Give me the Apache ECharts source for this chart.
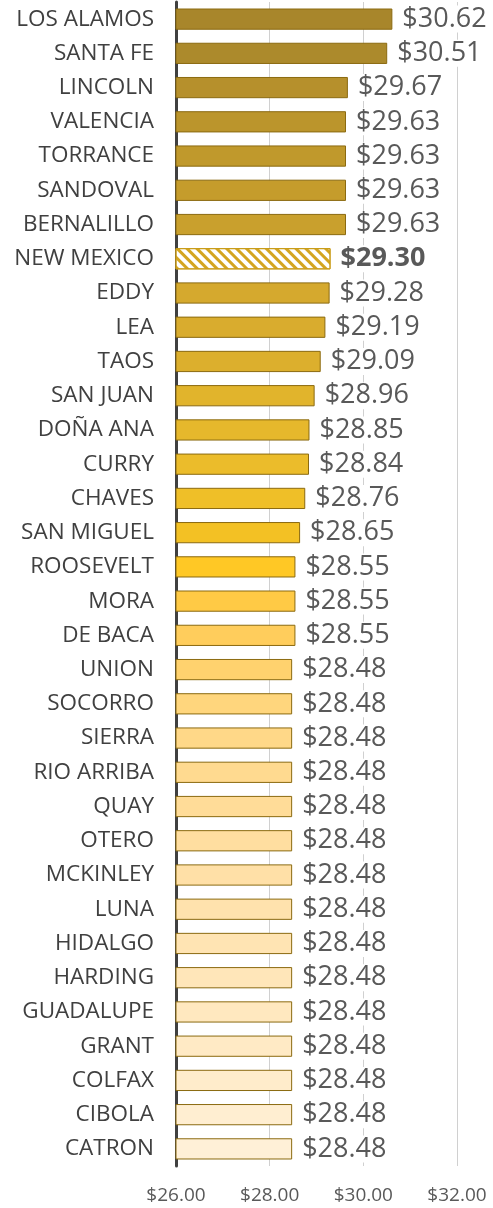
<!DOCTYPE html>
<html>
<head>
<meta charset="utf-8">
<script src="https://cdn.jsdelivr.net/npm/echarts@6/dist/echarts.min.js"></script>
<style>
  html, body { margin: 0; padding: 0; background: #fff; }
  #c_container { width: 493px; height: 1208px; }
</style>
</head>
<body>
<div id="c_container"></div>
<script>
var counties = ["LOS ALAMOS", "SANTA FE", "LINCOLN", "VALENCIA", "TORRANCE", "SANDOVAL", "BERNALILLO",
  "NEW MEXICO", "EDDY", "LEA", "TAOS", "SAN JUAN", "DOÑA ANA", "CURRY", "CHAVES", "SAN MIGUEL",
  "ROOSEVELT", "MORA", "DE BACA", "UNION", "SOCORRO", "SIERRA", "RIO ARRIBA", "QUAY", "OTERO",
  "MCKINLEY", "LUNA", "HIDALGO", "HARDING", "GUADALUPE", "GRANT", "COLFAX", "CIBOLA", "CATRON"];
var wages = [30.62, 30.51, 29.67, 29.63, 29.63, 29.63, 29.63,
  29.30, 29.28, 29.19, 29.09, 28.96, 28.85, 28.84, 28.76, 28.65,
  28.55, 28.55, 28.55, 28.48, 28.48, 28.48, 28.48, 28.48, 28.48,
  28.48, 28.48, 28.48, 28.48, 28.48, 28.48, 28.48, 28.48, 28.48];
var stateName = "NEW MEXICO";
var xTicks = { min: 26, max: 32, step: 2 };

var colorList = ["#A8862B", "#AC8A2C", "#B6902C", "#BB952C", "#C0992C", "#C59C2C", "#C9A02D",
  "#D4A520", "#D5A92E", "#D9AC2E", "#DCAF2D", "#E1B42C", "#E6B82C", "#EBBC2B", "#EFBF28", "#F3C124",
  "#FFC825", "#FFCA45", "#FFCD5C", "#FFD26E", "#FFD67D", "#FFD888", "#FFDA90", "#FFDC98", "#FFDEA0",
  "#FFE0A7", "#FFE2AD", "#FFE4B3", "#FFE6B9", "#FFE8BF", "#FFEAC5", "#FFECCB", "#FFEED1", "#FFF0D7"];
var font_family = "'Open Sans', 'Noto Sans', sans-serif";

var myChart = echarts.init(document.getElementById("c_container"));

var barData = wages.map(function (v, i) {
  var item = {
    value: v,
    itemStyle: { color: colorList[i], borderColor: "#8B6A10", borderWidth: 1 }
  };
  if (counties[i] == stateName) {
    item.itemStyle = {
      color: "#ffffff",
      borderColor: "#C89B17",
      borderWidth: 1,
      decal: {
        symbol: "rect",
        dashArrayX: [1, 0],
        dashArrayY: [3, 4],
        rotation: Math.PI / 4,
        color: "#D4A520"
      }
    };
    item.label = { fontWeight: "bold" };
  }
  return item;
});

myChart.setOption({
  animation: false,
  grid: { left: 176, right: 36, top: 2, bottom: 42, containLabel: false },
  xAxis: {
    type: "value",
    min: xTicks.min,
    max: xTicks.max,
    interval: xTicks.step,
    axisLine: { show: false },
    axisTick: { show: false },
    splitLine: { show: true, lineStyle: { color: "#D0D0D0", width: 1 } },
    axisLabel: {
      color: "#595959",
      fontSize: 19,
      fontFamily: font_family,
      margin: 20,
      formatter: function (v) { return "$" + v.toFixed(2); }
    }
  },
  yAxis: {
    type: "category",
    inverse: true,
    data: counties,
    axisTick: { show: false },
    axisLine: { show: true, lineStyle: { color: "#404040", width: 3 } },
    axisLabel: {
      color: "#404040",
      fontSize: 22.5,
      fontFamily: font_family,
      margin: 22
    }
  },
  series: [
    {
      type: "bar",
      data: barData,
      barCategoryGap: "38%",
      label: {
        show: true,
        position: "right",
        distance: 8,
        color: "#595959",
        fontSize: 27,
        fontFamily: font_family,
        backgroundColor: "#ffffff",
        padding: [0, 2],
        formatter: function (p) { return "$" + p.value.toFixed(2); }
      }
    }
  ]
});
</script>
</body>
</html>
